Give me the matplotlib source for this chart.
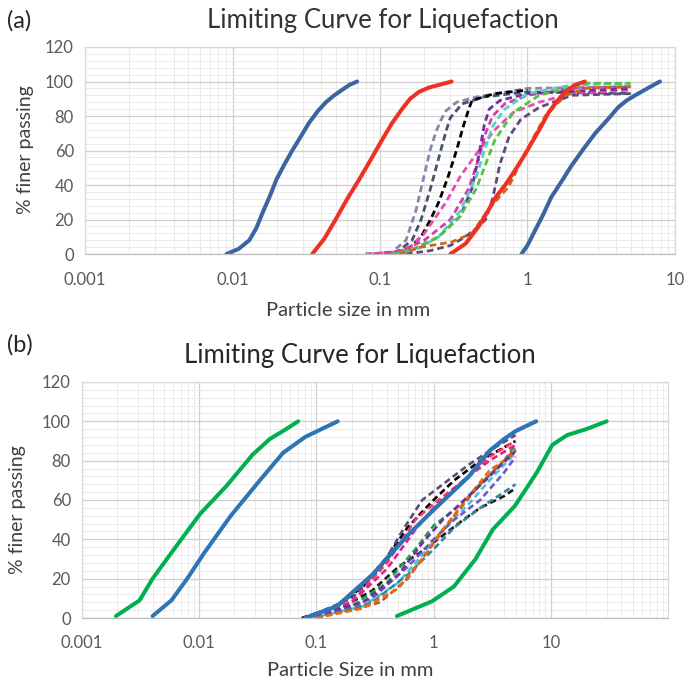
import matplotlib.pyplot as plt
from matplotlib.ticker import FixedLocator, LogLocator, MultipleLocator, NullFormatter

plt.rcParams['font.family'] = ['Lato', 'DejaVu Sans']

# ---- panel (a) data ----
a_blue_x = [0.0091, 0.011, 0.013, 0.0145, 0.016, 0.018, 0.0198, 0.0225, 0.0254, 0.029, 0.033,
            0.038, 0.043, 0.049, 0.055, 0.062, 0.070]
a_blue_y = [0, 3, 8, 15, 24, 34, 43, 52, 60, 68, 76, 83, 88, 92, 95, 98, 100]
a_red_x = [0.0347, 0.042, 0.050, 0.060, 0.072, 0.087, 0.103, 0.121, 0.141, 0.160, 0.184,
           0.215, 0.25, 0.306]
a_red_y = [0, 9, 20, 32, 43, 55, 66, 76, 84, 90, 94, 96.5, 98, 100]
a_red2_x = [0.30, 0.38, 0.467, 0.54, 0.61, 0.72, 0.83, 0.95, 1.06, 1.22, 1.39, 1.6, 1.81, 2.1, 2.45]
a_red2_y = [0, 6, 16, 25, 33, 41, 49, 57, 64, 73, 82, 89, 94, 98, 100]
a_blue2_x = [0.91, 1.0, 1.13, 1.28, 1.45, 1.7, 1.98, 2.4, 2.88, 3.5, 4.12, 4.7, 5.37, 6.5, 7.9]
a_blue2_y = [0, 5, 14, 23, 33, 42, 51, 61, 70, 78, 85, 89, 92, 96, 100]

a_dash_x = [
    [0.08, 0.12, 0.15, 0.175, 0.19, 0.205, 0.22, 0.24, 0.26, 0.28, 0.33, 0.45, 1.0, 5.0],
    [0.09, 0.13, 0.165, 0.19, 0.22, 0.24, 0.26, 0.28, 0.30, 0.36, 0.5, 1.0, 5.0],
    [0.13, 0.16, 0.19, 0.22, 0.25, 0.29, 0.33, 0.37, 0.40, 0.42, 0.6, 1.0],
    [0.08, 0.13, 0.16, 0.2, 0.28, 0.35, 0.45, 0.6, 0.8, 1.2, 2.0, 5.0],
    [0.09, 0.14, 0.2, 0.3, 0.4, 0.47, 0.52, 0.58, 0.7, 1.0, 2.0, 5.0],
    [0.12, 0.17, 0.25, 0.35, 0.42, 0.47, 0.51, 0.55, 0.65, 1.0, 5.0],
    [0.13, 0.18, 0.25, 0.35, 0.45, 0.52, 0.58, 0.7, 1.0, 2.0, 5.0],
    [0.12, 0.17, 0.25, 0.35, 0.45, 0.52, 0.6, 0.8, 1.2, 2.5, 5.0],
    [0.15, 0.22, 0.3, 0.38, 0.45, 0.52, 0.58, 0.65, 0.75, 0.9, 1.2, 2.0, 5.0],
    [0.135, 0.19, 0.306, 0.42, 0.545, 0.745, 0.97, 1.32, 1.81, 2.5, 5.0],
]
a_dash_y = [
    [0, 1, 8, 25, 38, 50, 61, 71, 78, 83, 88, 91, 96, 97],
    [0, 1, 8, 20, 38, 50, 61, 71, 79, 87, 91, 94, 93],
    [0, 4, 10, 20, 30, 45, 60, 75, 84, 89, 93, 95],
    [0, 1, 4, 12, 30, 45, 58, 72, 82, 88, 93, 95],
    [0, 2, 8, 20, 38, 56, 70, 80, 87, 92, 96, 97],
    [0, 3, 10, 22, 38, 58, 75, 84, 89, 93, 96],
    [0, 3, 10, 25, 45, 62, 74, 84, 93, 98, 99],
    [0, 3, 10, 22, 38, 52, 66, 82, 92, 99, 99],
    [0, 2, 5, 10, 15, 20, 32, 52, 68, 78, 85, 92, 93],
    [0, 4, 7, 12, 26, 39, 59, 80, 92, 96, 97],
]
a_dash_colors = ['#8c84b0', '#44546a', '#000000', '#e64fb0', '#d63caa', '#7030a0',
                 '#4fd3c4', '#53c43f', '#5f4a7a', '#d0651a']

# ---- panel (b) data ----
b_green_x = [0.00195, 0.0031, 0.004, 0.0061, 0.0102, 0.017, 0.0285, 0.040, 0.055, 0.070]
b_green_y = [1, 9, 20, 35, 53, 67, 83, 91, 96, 100]
b_blue_x = [0.004, 0.0058, 0.0079, 0.011, 0.0186, 0.034, 0.052, 0.080, 0.11, 0.152]
b_blue_y = [1, 9, 20, 33, 52, 71, 84, 92, 96, 100]
b_green2_x = [0.486, 0.97, 1.49, 2.28, 3.2, 4.94, 7.6, 10.3, 13.8, 20.0, 30.0]
b_green2_y = [1, 8.5, 16, 30, 45, 57, 74, 88, 93, 96, 100]
b_mid_x = [0.08, 0.15, 0.3, 0.6, 1.0, 2.0, 3.0, 4.0, 5.0, 7.5]
b_mid_y = [0, 6, 22, 42, 55, 72, 85, 91, 95, 100]

b_dash_x = [
    [0.075, 0.15, 0.25, 0.4, 0.6, 0.8, 1.0, 1.5, 2.5, 5.0],
    [0.08, 0.15, 0.3, 0.5, 0.8, 1.2, 1.8, 2.5, 4.0, 5.0],
    [0.08, 0.2, 0.35, 0.55, 0.8, 1.2, 2.0, 3.0, 5.0],
    [0.08, 0.2, 0.4, 0.7, 1.0, 2.0, 3.0, 5.0],
    [0.08, 0.2, 0.4, 0.7, 1.0, 1.5, 2.5, 4.0, 5.0],
    [0.09, 0.25, 0.5, 0.8, 1.2, 2.0, 3.0, 5.0],
    [0.1, 0.3, 0.6, 1.0, 1.5, 2.5, 4.0, 5.0],
    [0.08, 0.2, 0.35, 0.6, 1.0, 1.5, 2.5, 4.0, 5.0],
    [0.1, 0.3, 0.6, 1.0, 1.5, 2.5, 4.0, 5.0],
    [0.08, 0.2, 0.4, 0.7, 1.0, 1.8, 3.0, 5.0],
    [0.1, 0.25, 0.5, 0.8, 1.2, 2.0, 3.0, 5.0],
    [0.08, 0.25, 0.5, 0.8, 1.2, 2.0, 3.0, 5.0],
]
b_dash_y = [
    [0, 6, 16, 31, 46, 54, 60, 70, 80, 90],
    [0, 4, 14, 26, 34, 42, 50, 56, 62, 66],
    [0, 10, 25, 45, 60, 68, 78, 85, 93],
    [0, 8, 28, 50, 58, 72, 82, 90],
    [0, 6, 18, 35, 47, 55, 68, 80, 88],
    [0, 6, 18, 32, 45, 58, 70, 84],
    [0, 8, 22, 35, 46, 56, 64, 68],
    [0, 4, 8, 20, 38, 52, 68, 80, 86],
    [0, 10, 26, 40, 50, 60, 74, 82],
    [0, 8, 25, 45, 56, 70, 80, 88],
    [0, 5, 15, 30, 45, 62, 75, 84],
    [0, 8, 22, 38, 50, 62, 72, 85],
]
b_dash_colors = ['#000000', '#1a1a1a', '#604a7b', '#ff3366', '#1fa04a', '#4bc4d6',
                 '#31859c', '#c0504d', '#6a5acd', '#e0208c', '#e46c0a', '#7030a0']

fig = plt.figure(figsize=(6.84, 6.87), dpi=100)
ax1 = fig.add_axes([0.1243, 0.6302, 0.8625, 0.3014])
ax2 = fig.add_axes([0.1199, 0.1004, 0.8567, 0.3436])


def style_axis(ax, xmax, xticks, xlabels, pad_x):
    ax.set_xscale('log')
    ax.set_xlim(0.001, xmax)
    ax.set_ylim(0, 120)
    ax.xaxis.set_major_locator(FixedLocator(xticks))
    ax.set_xticklabels(xlabels)
    ax.xaxis.set_minor_locator(LogLocator(base=10, subs=range(2, 10), numticks=20))
    ax.xaxis.set_minor_formatter(NullFormatter())
    ax.yaxis.set_major_locator(MultipleLocator(20))
    ax.yaxis.set_minor_locator(MultipleLocator(4))
    ax.grid(which='major', color='#cfcfcf', lw=0.9)
    ax.grid(which='minor', color='#ebebeb', lw=0.7)
    ax.set_axisbelow(True)
    ax.tick_params(which='both', length=0)
    ax.tick_params(axis='x', pad=pad_x, labelsize=12, labelcolor='#595959')
    ax.tick_params(axis='y', pad=8, labelsize=12, labelcolor='#595959')
    for s in ax.spines.values():
        s.set_color('#d9d9d9')
        s.set_linewidth(0.9)
    ax.spines['bottom'].set_color('#bfbfbf')


style_axis(ax1, 10, [0.001, 0.01, 0.1, 1, 10], ['0.001', '0.01', '0.1', '1', '10'], 13)
style_axis(ax2, 100, [0.001, 0.01, 0.1, 1, 10], ['0.001', '0.01', '0.1', '1', '10'], 12)

dash = (0, (2.4, 1.4))

# panel (a)
for xs, ys, c in zip(a_dash_x, a_dash_y, a_dash_colors):
    ax1.plot(xs, ys, color=c, lw=2.0, ls=dash)
for xs, ys, c in [(a_blue_x, a_blue_y, '#3b64a0'), (a_red_x, a_red_y, '#ee3124'),
                  (a_red2_x, a_red2_y, '#ee3124'), (a_blue2_x, a_blue2_y, '#3b64a0')]:
    ax1.plot(xs, ys, color=c, lw=2.9, solid_capstyle='round', solid_joinstyle='round')

# panel (b)
for xs, ys, c in zip(b_dash_x, b_dash_y, b_dash_colors):
    ax2.plot(xs, ys, color=c, lw=1.9, ls=dash)
ax2.plot(b_mid_x, b_mid_y, color='#2e75b6', lw=3.0, solid_capstyle='round',
         solid_joinstyle='round')
for xs, ys, c in [(b_green_x, b_green_y, '#00b050'), (b_blue_x, b_blue_y, '#2e75b6'),
                  (b_green2_x, b_green2_y, '#00b050')]:
    ax2.plot(xs, ys, color=c, lw=2.9, solid_capstyle='round', solid_joinstyle='round')

# titles and labels
fig.text(0.56, 0.970, 'Limiting Curve for Liquefaction', ha='center', va='center',
         fontsize=18.5, color='#333333')
fig.text(0.526, 0.483, 'Limiting Curve for Liquefaction', ha='center', va='center',
         fontsize=18.5, color='#262626')
fig.text(0.010, 0.970, '(a)', ha='left', va='center', fontsize=17, color='#262626')
fig.text(0.010, 0.498, '(b)', ha='left', va='center', fontsize=17, color='#262626')
fig.text(0.509, 1 - 310 / 687, 'Particle size in mm', ha='center', va='center',
         fontsize=14.5, color='#404040')
fig.text(0.512, 1 - 670 / 687, 'Particle Size in mm', ha='center', va='center',
         fontsize=14.5, color='#404040')
fig.text(0.037, 1 - 150 / 687, '% finer passing', ha='center', va='center',
         rotation=90, fontsize=14, color='#404040')
fig.text(0.025, 1 - 510 / 687, '% finer passing', ha='center', va='center',
         rotation=90, fontsize=14, color='#404040')

fig.savefig('out.png', dpi=100)
